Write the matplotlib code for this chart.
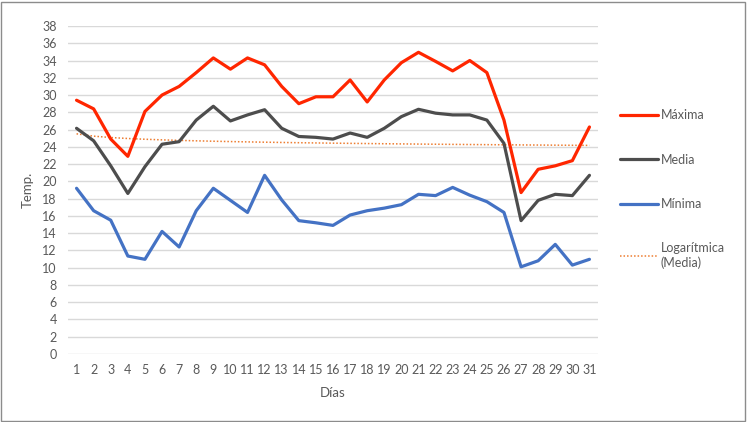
import numpy as np
import matplotlib
matplotlib.use("Agg")
import matplotlib.pyplot as plt
from matplotlib.patches import Rectangle

# daily temperatures
dias = list(range(1, 32))
maxima = [29.4, 28.4, 24.9, 22.9, 28.1, 30.0, 31.0, 32.6, 34.3, 33.0,
          34.3, 33.5, 31.0, 29.0, 29.8, 29.8, 31.75, 29.2, 31.75, 33.75,
          34.95, 33.9, 32.8, 34.0, 32.6, 27.1, 18.7, 21.4, 21.8, 22.4, 26.3]
media = [26.15, 24.7, 21.8, 18.6, 21.7, 24.3, 24.6, 27.1, 28.7, 27.0,
         27.7, 28.3, 26.15, 25.2, 25.1, 24.9, 25.6, 25.1, 26.15, 27.5,
         28.35, 27.9, 27.7, 27.7, 27.1, 24.4, 15.45, 17.8, 18.5, 18.35, 20.7]
minima = [19.2, 16.6, 15.5, 11.35, 10.97, 14.2, 12.4, 16.6, 19.2, 17.8,
          16.4, 20.7, 17.85, 15.45, 15.2, 14.9, 16.1, 16.6, 16.9, 17.3,
          18.5, 18.35, 19.3, 18.4, 17.65, 16.4, 10.1, 10.8, 12.7, 10.3, 10.97]
y_ticks = list(range(0, 40, 2))

# logarithmic trendline of "Media", as Excel fits it
x = np.array(dias, dtype=float)
b, a = np.polyfit(np.log(x), np.array(media), 1)
tendencia = a + b * np.log(x)

plt.rcParams['font.family'] = ['Lato', 'DejaVu Sans']
gris = '#595959'

fig = plt.figure(figsize=(7.49, 4.22), dpi=100)
W, H = 749, 422
ax = fig.add_axes([68 / W, (H - 354) / H, 530 / W, 328 / H])

ax.plot(dias, maxima, color='#FF2600', lw=2.3, label='Máxima',
        solid_joinstyle='round', solid_capstyle='round', zorder=3)
ax.plot(dias, media, color='#4D4D4D', lw=2.3, label='Media',
        solid_joinstyle='round', solid_capstyle='round', zorder=3)
ax.plot(dias, minima, color='#4472C4', lw=2.3, label='Mínima',
        solid_joinstyle='round', solid_capstyle='round', zorder=3)
ax.plot(dias, tendencia, color='#ED7D31', lw=1.1, ls=(0, (1, 1.3)),
        label='Logarítmica\n(Media)', zorder=2)

ax.set_xlim(0.5, 31.5)
ax.set_ylim(0, 38)
ax.set_xticks(dias)
ax.set_xticklabels([str(d) for d in dias])
ax.set_yticks(y_ticks)
ax.grid(axis='y', color='#D9D9D9', lw=1)
ax.set_axisbelow(True)
for s in ax.spines.values():
    s.set_visible(False)
ax.tick_params(length=0, colors=gris, labelsize=9)
ax.tick_params(axis='x', pad=7)
ax.tick_params(axis='y', pad=8)

ax.set_xlabel('Días', color=gris, fontsize=9.5, labelpad=8)
ax.set_ylabel('Temp.', color=gris, fontsize=9.5, labelpad=6)

leg = ax.legend(loc='upper left', bbox_to_anchor=(620 / W, 1 - 109 / H),
                bbox_transform=fig.transFigure, frameon=False, fontsize=9,
                handlelength=3.0, handletextpad=0.25, labelspacing=2.6,
                borderaxespad=0, borderpad=0)
for t in leg.get_texts():
    t.set_color(gris)

fig.patches.append(Rectangle((1 / W, 1 / H), 744 / W, 419 / H,
                             transform=fig.transFigure, fill=False,
                             edgecolor='#8C8C8C', lw=1))

fig.savefig('out.png', dpi=100)
